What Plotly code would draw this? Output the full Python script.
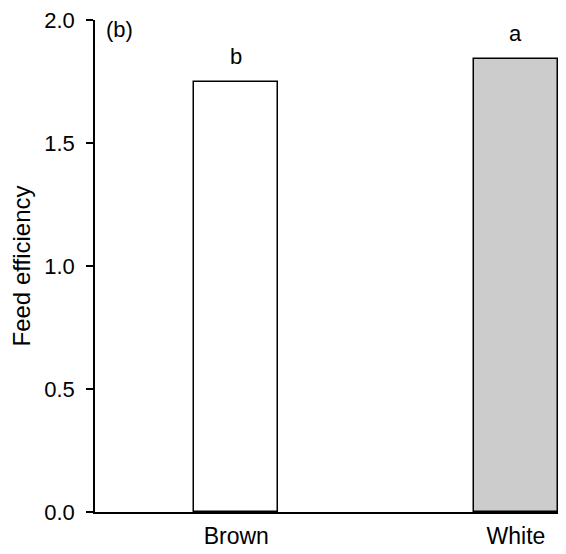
import plotly.graph_objects as go

categories = ["Brown", "White"]
feed_efficiency = [1.75, 1.84]
bar_colors = ["#ffffff", "#cccccc"]
letters = ["b", "a"]
y_ticks = [0.0, 0.5, 1.0, 1.5, 2.0]
y_tick_labels = ["0.0", "0.5", "1.0", "1.5", "2.0"]

FONT = "Liberation Sans, Arial, sans-serif"

fig = go.Figure()
fig.add_trace(go.Bar(
    x=[0, 1], y=feed_efficiency, width=0.299,
    marker=dict(color=bar_colors, line=dict(color="black", width=1.5)),
    showlegend=False, hoverinfo="skip",
))

for i, (v, t) in enumerate(zip(feed_efficiency, letters)):
    fig.add_annotation(x=i, y=v, text=t, showarrow=False, xref="x", yref="y",
                       yanchor="bottom", yshift=11,
                       font=dict(family=FONT, size=22, color="black"))

fig.add_annotation(x=0, y=1, xref="paper", yref="paper", text="(b)", showarrow=False,
                   xanchor="left", yanchor="top", xshift=9, yshift=5,
                   font=dict(family=FONT, size=22, color="black"))

# page body has an 8px default margin, so the figure is sized/offset to fit
fig.update_layout(
    width=558, height=546,
    margin=dict(l=87, r=0, t=9, b=42),
    plot_bgcolor="white", paper_bgcolor="white",
    font=dict(family=FONT, size=22, color="black"),
    bargap=0,
    xaxis=dict(
        range=[-0.505, 1.179], tickmode="array", tickvals=[0, 1], ticktext=categories,
        showline=True, linecolor="black", linewidth=1.5, ticks="", showgrid=False,
        zeroline=False, ticklabelstandoff=3, tickfont=dict(size=23),
        ticklabeloverflow="allow",
    ),
    yaxis=dict(
        range=[0, 2.0], tickmode="array", tickvals=y_ticks, ticktext=y_tick_labels,
        showline=True, linecolor="black", linewidth=1.5, ticks="outside", ticklen=7,
        tickwidth=1.5, tickcolor="black", showgrid=False, zeroline=False,
        title=dict(text="Feed efficiency", standoff=18, font=dict(size=24)),
        ticklabelstandoff=7, tickfont=dict(size=22), ticklabeloverflow="allow",
    ),
)

fig.write_html("out.html")
